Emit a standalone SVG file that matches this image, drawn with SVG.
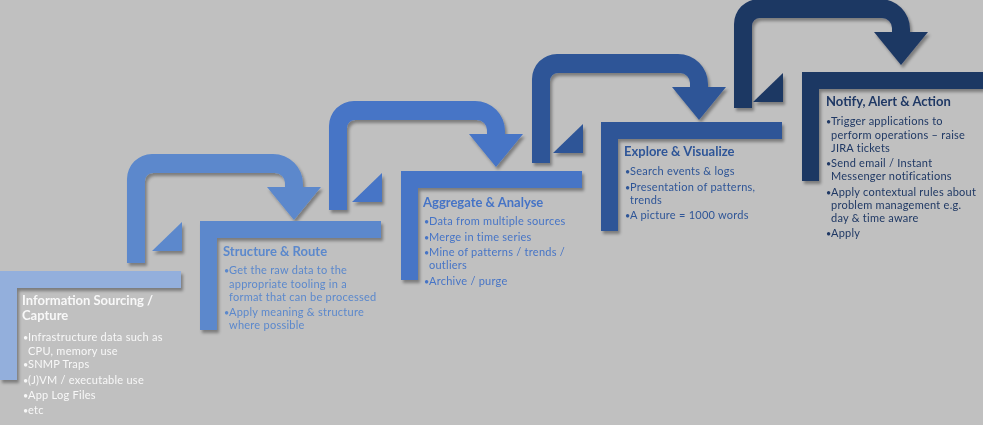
<svg xmlns="http://www.w3.org/2000/svg" width="983" height="425" viewBox="0 0 983 425">
<defs>
<filter id="sh" x="-10%" y="-10%" width="130%" height="140%">
<feDropShadow dx="2" dy="3" stdDeviation="1.8" flood-color="#000" flood-opacity="0.35"/>
</filter>
<path id="arrow" d="M127,263 V179 A25,25 0 0 1 152,154 H273 A30,30 0 0 1 303,184 V187 H321 L294,220 L267,187 H285 V183 A10,10 0 0 0 275,173 H153 A8,8 0 0 0 145,181 V263 Z"/>
<path id="step" d="M0,0 H181 V17 H17 V109 H0 Z"/>
<path id="tri" d="M152,251 L182,222 V251 Z"/>
</defs>
<style>
.t{font-family:Lato,"Liberation Sans",sans-serif;font-weight:bold;font-size:13px}
.b{font-family:Lato,"Liberation Sans",sans-serif;font-size:11px;letter-spacing:0.25px}
.p{font-size:9px;letter-spacing:0}
.c1{fill:#93AFDC}.c2{fill:#5B88CC}.c3{fill:#4674C6}.c4{fill:#2E5597}.c5{fill:#1F3864}
.w{fill:#F8F8F8}
</style>
<rect width="983" height="425" fill="#C0C0C0"/>
<g id="connectors" filter="url(#sh)">
<use href="#arrow" class="c2"/>
<use href="#arrow" class="c3" transform="translate(202,-53)"/>
<use href="#arrow" class="c4" transform="translate(405,-100)"/>
<use href="#arrow" class="c5" transform="translate(607,-155)"/>
<use href="#tri" class="c2"/>
<use href="#tri" class="c3" transform="translate(200,-49)"/>
<use href="#tri" class="c4" transform="translate(401,-98)"/>
<use href="#tri" class="c5" transform="translate(601,-149)"/>
</g>
<g id="step1">
<use href="#step" class="c1" filter="url(#sh)" transform="translate(0,271)"/>
<text class="t w" x="22" y="305">Information Sourcing /</text>
<text class="t w" x="22" y="320">Capture</text>
<text class="b w"><tspan class="p" x="23" y="341">•</tspan><tspan x="28">Infrastructure data such as</tspan><tspan x="28" y="355">CPU, memory use</tspan><tspan class="p" x="23" y="368">•</tspan><tspan x="28">SNMP Traps</tspan><tspan class="p" x="23" y="384">•</tspan><tspan x="28">(J)VM / executable use</tspan><tspan class="p" x="23" y="399">•</tspan><tspan x="28">App Log Files</tspan><tspan class="p" x="23" y="414">•</tspan><tspan x="28">etc</tspan></text>
</g>
<g id="step2">
<use href="#step" class="c2" filter="url(#sh)" transform="translate(200,221)"/>
<text class="t c2" x="223" y="256">Structure &amp; Route</text>
<text class="b c2"><tspan class="p" x="224" y="274">•</tspan><tspan x="229">Get the raw data to the</tspan><tspan x="229" y="288">appropriate tooling in a</tspan><tspan x="229" y="301">format that can be processed</tspan><tspan class="p" x="224" y="316">•</tspan><tspan x="229">Apply meaning &amp; structure</tspan><tspan x="229" y="329">where possible</tspan></text>
</g>
<g id="step3">
<use href="#step" class="c3" filter="url(#sh)" transform="translate(401,171)"/>
<text class="t c3" x="423" y="206.5">Aggregate &amp; Analyse</text>
<text class="b c3"><tspan class="p" x="424" y="225">•</tspan><tspan x="429">Data from multiple sources</tspan><tspan class="p" x="424" y="241">•</tspan><tspan x="429">Merge in time series</tspan><tspan class="p" x="424" y="256">•</tspan><tspan x="429">Mine of patterns / trends /</tspan><tspan x="429" y="269">outliers</tspan><tspan class="p" x="424" y="285">•</tspan><tspan x="429">Archive / purge</tspan></text>
</g>
<g id="step4">
<use href="#step" class="c4" filter="url(#sh)" transform="translate(601,122)"/>
<text class="t c4" x="624" y="155.5">Explore &amp; Visualize</text>
<text class="b c4"><tspan class="p" x="625" y="175">•</tspan><tspan x="630">Search events &amp; logs</tspan><tspan class="p" x="625" y="191">•</tspan><tspan x="630">Presentation of patterns,</tspan><tspan x="630" y="204">trends</tspan><tspan class="p" x="625" y="219">•</tspan><tspan x="630">A picture = 1000 words</tspan></text>
</g>
<g id="step5">
<use href="#step" class="c5" filter="url(#sh)" transform="translate(802,72)"/>
<text class="t c5" x="826" y="105.5">Notify, Alert &amp; Action</text>
<text class="b c5"><tspan class="p" x="826" y="125">•</tspan><tspan x="831">Trigger applications to</tspan><tspan x="831" y="139">perform operations – raise</tspan><tspan x="831" y="152">JIRA tickets</tspan><tspan class="p" x="826" y="167">•</tspan><tspan x="831">Send email / Instant</tspan><tspan x="831" y="180">Messenger notifications</tspan><tspan class="p" x="826" y="196">•</tspan><tspan x="831">Apply contextual rules about</tspan><tspan x="831" y="209">problem management e.g.</tspan><tspan x="831" y="222">day &amp; time aware</tspan><tspan class="p" x="826" y="237">•</tspan><tspan x="831">Apply</tspan></text>
</g>
</svg>
